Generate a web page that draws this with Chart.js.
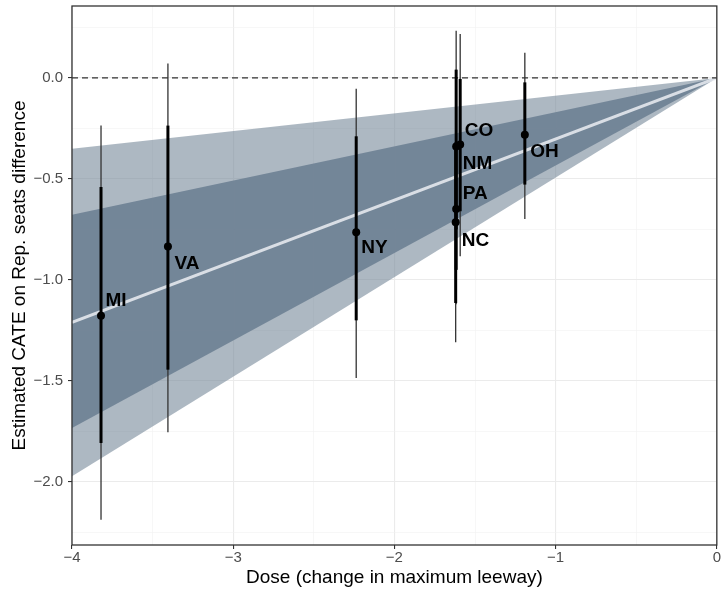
<!DOCTYPE html>
<html>
<head>
<meta charset="utf-8">
<script src="https://cdn.jsdelivr.net/npm/chart.js@4.4.0/dist/chart.umd.min.js"></script>
<style>
  html, body { margin: 0; padding: 0; background: #fff; }
  #wrap { width: 721px; height: 591px; }
</style>
</head>
<body>
<div id="wrap"><canvas id="cateChart" width="721" height="591"></canvas></div>
<script>
// state estimates
const states   = ['MI', 'VA', 'NY', 'CO', 'NM', 'PA', 'NC', 'OH'];
const dose     = [-3.82, -3.405, -2.237, -1.592, -1.617, -1.617, -1.62, -1.191];
const cate     = [-1.177, -0.834, -0.764, -0.33, -0.339, -0.649, -0.715, -0.281];
const outerLow = [-2.187, -1.754, -1.485, -0.883, -1.0, -1.12, -1.309, -0.698];
const outerHigh = [-0.236, 0.071, -0.054, 0.218, 0.234, -0.18, -0.12, 0.124];
const innerLow = [-1.807, -1.444, -1.2, -0.66, -0.75, -0.95, -1.114, -0.528];
const innerHigh = [-0.54, -0.236, -0.289, -0.005, 0.041, -0.35, -0.32, -0.022];

// fitted line through the origin and its bands
const doseGrid   = [-4, 0];
const fitLine    = [-1.21, 0];
const bandOuterHi = [-0.351, 0];
const bandOuterLo = [-1.972, 0];
const bandInnerHi = [-0.677, 0];
const bandInnerLo = [-1.733, 0];

// axis ticks
const xMajor = [-4, -3, -2, -1, 0];
const xMinor = [-3.5, -2.5, -1.5, -0.5];
const yMajor = [0, -0.5, -1, -1.5, -2];
const yMinor = [0.25, -0.25, -0.75, -1.25, -1.75, -2.25];

// label nudges in pixels (style only)
const labelNudge = [[4.5, -15], [6.5, 17], [5, 15], [4.5, -14], [6.5, 17], [6.5, -15], [6, 18.5], [5.5, 17.5]];

const FONT = "'Liberation Sans', Arial, Helvetica, sans-serif";

const pts = (xs, ys) => xs.map((x, i) => ({ x: x, y: ys[i] }));
const near = (v, list) => list.some(m => Math.abs(m - v) < 1e-6);
const minus = s => s.replace('-', '\u2212');

const errorBars = {
  id: 'errorBars',
  beforeDatasetDraw(chart, args) {
    if (args.index !== 6) return;
    const { ctx, scales: { x, y } } = chart;
    ctx.save();
    ctx.lineCap = 'butt';
    dose.forEach((d, i) => {
      const px = x.getPixelForValue(d);
      ctx.strokeStyle = '#333333';
      ctx.lineWidth = 1.3;
      ctx.beginPath();
      ctx.moveTo(px, y.getPixelForValue(outerLow[i]));
      ctx.lineTo(px, y.getPixelForValue(outerHigh[i]));
      ctx.stroke();
    });
    dose.forEach((d, i) => {
      const px = x.getPixelForValue(d);
      ctx.strokeStyle = '#000000';
      ctx.lineWidth = 3;
      ctx.beginPath();
      ctx.moveTo(px, y.getPixelForValue(innerLow[i]));
      ctx.lineTo(px, y.getPixelForValue(innerHigh[i]));
      ctx.stroke();
    });
    ctx.restore();
  },
  afterDatasetsDraw(chart) {
    const { ctx, scales: { x, y } } = chart;
    ctx.save();
    ctx.font = 'bold 19px ' + FONT;
    ctx.fillStyle = '#000';
    ctx.textAlign = 'left';
    ctx.textBaseline = 'middle';
    states.forEach((s, i) => {
      ctx.fillText(s, x.getPixelForValue(dose[i]) + labelNudge[i][0], y.getPixelForValue(cate[i]) + labelNudge[i][1]);
    });
    ctx.restore();
  },
  afterDraw(chart) {
    const { ctx, chartArea: a } = chart;
    ctx.save();
    ctx.strokeStyle = '#333333';
    ctx.lineWidth = 1.3;
    ctx.strokeRect(a.left, a.top, a.right - a.left, a.bottom - a.top);
    ctx.restore();
  }
};

const gridOpts = majors => ({
  color: c => near(c.tick.value, majors) ? '#ebebeb' : '#f2f2f2',
  lineWidth: c => near(c.tick.value, majors) ? 1.1 : 0.6,
  tickColor: c => near(c.tick.value, majors) ? '#333333' : 'rgba(0,0,0,0)',
  tickWidth: 1.1,
  tickLength: 4,
  drawTicks: true
});

new Chart(document.getElementById('cateChart'), {
  type: 'line',
  data: {
    datasets: [
      { data: pts(doseGrid, bandOuterHi), borderWidth: 0, pointRadius: 0, fill: '+1', backgroundColor: 'rgba(119,136,153,0.6)', order: 6 },
      { data: pts(doseGrid, bandOuterLo), borderWidth: 0, pointRadius: 0, fill: false, order: 6 },
      { data: pts(doseGrid, bandInnerHi), borderWidth: 0, pointRadius: 0, fill: '+1', backgroundColor: 'rgba(108,127,147,0.88)', order: 5 },
      { data: pts(doseGrid, bandInnerLo), borderWidth: 0, pointRadius: 0, fill: false, order: 5 },
      { data: pts(doseGrid, fitLine), borderColor: 'rgba(236,239,243,0.85)', borderWidth: 3, pointRadius: 0, fill: false, order: 4 },
      { data: pts(doseGrid, [0, 0]), borderColor: '#333333', borderWidth: 1.2, borderDash: [6, 4], pointRadius: 0, fill: false, order: 3 },
      { data: pts(dose, cate), showLine: false, pointRadius: 4, pointBorderWidth: 0, pointBackgroundColor: '#000', order: 1 }
    ]
  },
  options: {
    responsive: false,
    animation: false,
    devicePixelRatio: 1,
    layout: { padding: { top: 6, right: 4, left: 0, bottom: 0 } },
    plugins: { legend: { display: false }, tooltip: { enabled: false } },
    scales: {
      x: {
        type: 'linear',
        min: -4, max: 0,
        afterBuildTicks: s => { s.ticks = xMajor.concat(xMinor).sort((a, b) => a - b).map(v => ({ value: v })); },
        afterFit: s => { s.height = 46; },
        grid: gridOpts(xMajor),
        border: { display: false },
        ticks: {
          autoSkip: false, maxRotation: 0, padding: 0,
          color: '#4d4d4d', font: { family: FONT, size: 15 },
          callback: v => near(v, xMajor) ? minus(String(v)) : ''
        },
        title: { display: true, text: 'Dose (change in maximum leeway)', color: '#000', font: { family: FONT, size: 19 }, padding: { top: 0, bottom: 2 } }
      },
      y: {
        type: 'linear',
        min: -2.312, max: 0.356,
        afterBuildTicks: s => { s.ticks = yMajor.concat(yMinor).sort((a, b) => a - b).map(v => ({ value: v })); },
        afterFit: s => { s.width = 72; s.paddingTop = 0; s.paddingBottom = 0; },
        grid: gridOpts(yMajor),
        border: { display: false },
        ticks: {
          autoSkip: false, padding: 5,
          color: '#4d4d4d', font: { family: FONT, size: 15 },
          callback: v => near(v, yMajor) ? minus(v.toFixed(1)) : ''
        },
        title: { display: true, text: 'Estimated CATE on Rep. seats difference', color: '#000', font: { family: FONT, size: 19 }, padding: { top: 8, bottom: 0 } }
      }
    }
  },
  plugins: [errorBars]
});
</script>
</body>
</html>
